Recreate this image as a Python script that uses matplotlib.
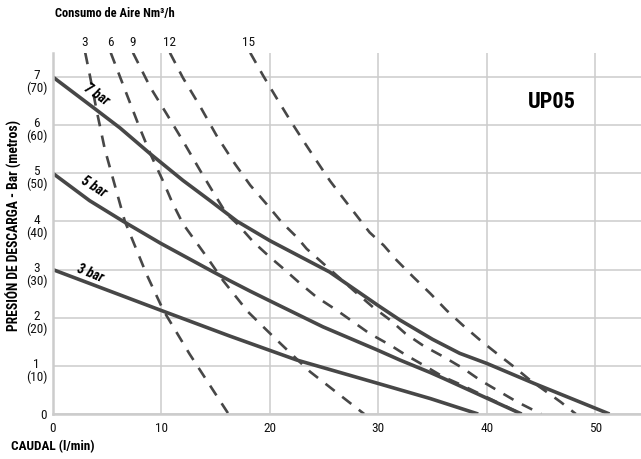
import matplotlib
matplotlib.use("Agg")
import matplotlib.pyplot as plt
from matplotlib.transforms import ScaledTranslation

plt.rcParams['font.family'] = ['Roboto Condensed', 'Archivo Narrow', 'DejaVu Sans']

# pump curves (caudal l/min vs presion bar) for each inlet air pressure
x7 = [0, 3.7, 6.2, 9.0, 12.0, 14.5, 17.0, 20.0, 25.5, 30.0, 32.0, 35.0, 37.5, 40.0, 44.3, 51.3]
y7 = [7.0, 6.37, 5.94, 5.40, 4.85, 4.43, 4.0, 3.6, 2.95, 2.25, 1.95, 1.55, 1.26, 1.05, 0.64, 0.0]
x5 = [0, 3.4, 6.5, 9.9, 14.8, 16.3, 18.2, 20.0, 24.9, 29.9, 32.0, 34.8, 36.0, 43.2]
y5 = [5.0, 4.43, 4.0, 3.55, 2.95, 2.77, 2.55, 2.35, 1.81, 1.33, 1.12, 0.86, 0.74, 0.0]
x3 = [0, 10.0, 16.3, 22.5, 29.9, 34.8, 39.2]
y3 = [3.0, 2.15, 1.62, 1.12, 0.64, 0.32, 0.0]
bar_labels = ["7 bar", "5 bar", "3 bar"]

# air consumption curves (Nm3/h)
air_x3 = [3.0, 3.45, 4.05, 4.8, 5.6, 6.65, 8.65, 10.2, 12.6, 16.2]
air_y3 = [7.5, 7.0, 6.3, 5.5, 4.85, 4.0, 2.9, 2.15, 1.25, 0.0]
air_x6 = [5.35, 6.8, 8.0, 9.0, 10.2, 11.0, 12.0, 14.2, 15.7, 18.0, 19.4, 21.0, 23.7, 28.7]
air_y6 = [7.5, 6.65, 5.95, 5.4, 4.82, 4.4, 3.95, 3.26, 2.77, 2.12, 1.81, 1.46, 0.88, 0.0]
air_x9 = [7.4, 9.0, 10.5, 12.0, 13.6, 14.8, 16.0, 17.0, 18.5, 20.0, 21.25, 22.8, 24.3,
          26.2, 27.7, 29.2, 31.1, 32.5, 34.2, 36.0, 37.5, 43.2]
air_y9 = [7.5, 6.78, 6.23, 5.67, 5.05, 4.6, 4.16, 3.95, 3.57, 3.26, 3.02, 2.71, 2.43,
          2.15, 1.91, 1.67, 1.43, 1.23, 1.01, 0.77, 0.62, 0.0]
air_x12 = [10.8, 12.0, 13.6, 15.1, 16.8, 18.2, 19.7, 21.1, 22.5, 23.4, 26.5, 27.7, 29.5,
           31.1, 32.5, 34.2, 36.0, 37.8, 39.4, 41.2, 42.8, 45.0]
air_y12 = [7.5, 6.98, 6.38, 5.78, 5.19, 4.75, 4.36, 3.98, 3.67, 3.43, 2.81, 2.57, 2.22,
           1.95, 1.67, 1.41, 1.19, 0.95, 0.70, 0.46, 0.25, 0.0]
air_x15 = [18.2, 19.4, 20.6, 21.9, 23.1, 24.3, 25.55, 26.8, 28.0, 29.2, 30.5, 31.7, 33.2,
           34.8, 36.3, 37.8, 39.4, 40.9, 42.5, 44.0, 45.5, 46.8, 48.2]
air_y15 = [7.5, 7.02, 6.57, 6.09, 5.67, 5.26, 4.84, 4.47, 4.12, 3.77, 3.5, 3.19, 2.85,
           2.5, 2.15, 1.84, 1.53, 1.26, 0.98, 0.70, 0.46, 0.25, 0.0]
air_labels = ["3", "6", "9", "12", "15"]
air_label_x = [2.9, 5.3, 7.37, 10.75, 18.0]

xticks = [0, 10, 20, 30, 40, 50]
yticks = [0, 1, 2, 3, 4, 5, 6, 7]
ytick_labels = ["0"] + ["%d\n(%d)" % (v, v * 10) for v in yticks[1:]]

LINE = '#474747'
GRID = '#cccccc'

fig = plt.figure(figsize=(6.41, 4.59), dpi=100)
ax = fig.add_axes([0.0822, 0.098, 0.9178, 0.787])
ax.set_xlim(0, 54.2)
ax.set_ylim(0, 7.5)

ax.grid(True, color=GRID, lw=1.1)
ax.set_axisbelow(True)
for s in ['top', 'right']:
    ax.spines[s].set_visible(False)
for s in ['left', 'bottom']:
    ax.spines[s].set_color(GRID)
    ax.spines[s].set_linewidth(1.8)

dash = (0, (4.4, 3.6))
for xs, ys in [(air_x3, air_y3), (air_x6, air_y6), (air_x9, air_y9),
               (air_x12, air_y12), (air_x15, air_y15)]:
    ax.plot(xs, ys, color=LINE, lw=1.9, linestyle=dash, dash_capstyle='butt')

for xs, ys in [(x7, y7), (x5, y5), (x3, y3)]:
    ax.plot(xs, ys, color=LINE, lw=2.6, solid_capstyle='butt', solid_joinstyle='round')

# labels on the solid curves
for lab, lx, ly, rot in zip(bar_labels, [4.0, 3.75, 3.44], [6.63, 4.72, 2.91], [-35, -32, -22]):
    ax.text(lx, ly, lab, rotation=rot, ha='center', va='center', fontsize=10,
            fontweight='bold', fontstyle='italic', color='black', rotation_mode='anchor')

for lab, lx in zip(air_labels, air_label_x):
    ax.text(lx, 7.71, lab, ha='center', va='center', fontsize=9.5, color='#111111', clip_on=False)

ax.text(46.0, 6.47, "UP05", ha='center', va='center', fontsize=16, fontweight='bold', color='black')

ax.set_xticks(xticks)
ax.set_yticks(yticks)
ax.set_yticklabels(ytick_labels, multialignment='center', linespacing=0.95)
ax.tick_params(length=0, labelsize=9.5, labelcolor='#111111')
ax.tick_params(axis='x', pad=6)
ax.tick_params(axis='y', pad=4)
for lab in ax.get_yticklabels()[1:]:
    lab.set_transform(lab.get_transform() + ScaledTranslation(0, -4 / 100, fig.dpi_scale_trans))

fig.text(55 / 641, 1 - 14 / 459, "Consumo de Aire Nm³/h", ha='left', va='center',
         fontsize=9, fontweight='bold', color='black')
fig.text(11 / 641, 1 - 447 / 459, "CAUDAL (l/min)", ha='left', va='center',
         fontsize=9.5, fontweight='bold', color='black')
fig.text(14 / 641, 1 - 225 / 459, "PRESIÓN DE DESCARGA - Bar (metros)", ha='center', va='center',
         rotation=90, fontsize=9.8, fontweight='bold', color='black')

fig.savefig("out.png", dpi=100)
